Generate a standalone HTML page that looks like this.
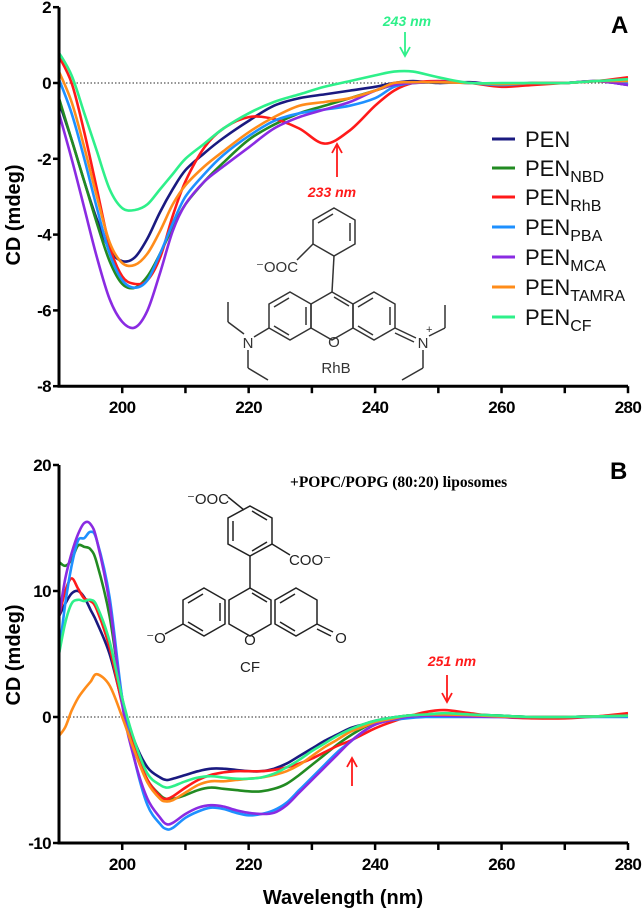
<!DOCTYPE html>
<html><head><meta charset="utf-8">
<style>
html,body{margin:0;padding:0;background:#fff;}
svg{display:block;font-family:"Liberation Sans",Arial,sans-serif;}
.tick{font-size:17px;font-weight:bold;letter-spacing:-0.6px;}
</style></head>
<body>
<svg id="chart" width="644" height="911" viewBox="0 0 644 911" xmlns="http://www.w3.org/2000/svg"></svg>
<script>
// ---- Data ----
const seriesNames = ["PEN","PEN_NBD","PEN_RhB","PEN_PBA","PEN_MCA","PEN_TAMRA","PEN_CF"];
const seriesColors = ["#1a1a80","#228b22","#ff1a1a","#1e90ff","#8a2be2","#ff8c1a","#2ef08a"];

const wavelengthsA = [190,192,194,196,198,200,202,204,206,208,210,213,216,220,224,228,232,236,240,243,246,250,255,260,265,270,275,280];
const penA   = [-0.5,-1.5,-2.6,-3.6,-4.4,-4.7,-4.6,-4.1,-3.4,-2.8,-2.3,-1.85,-1.45,-1.0,-0.6,-0.4,-0.3,-0.2,-0.1,0.0,0.05,0.0,0.02,-0.05,0.0,0.0,0.05,-0.05];
const nbdA   = [-0.4,-1.5,-2.6,-3.7,-4.7,-5.3,-5.4,-5.1,-4.5,-3.8,-3.2,-2.6,-2.1,-1.5,-1.1,-0.8,-0.6,-0.4,-0.2,-0.05,0.0,0.02,0.0,-0.05,0.0,0.0,0.05,0.05];
const rhbA   = [0.7,0.0,-1.3,-2.8,-4.3,-5.1,-5.3,-5.2,-4.6,-3.5,-2.6,-1.7,-1.2,-0.9,-0.95,-1.2,-1.6,-1.25,-0.6,-0.2,0.0,0.05,0.0,-0.1,-0.05,0.0,0.05,0.15];
const pbaA   = [0.1,-0.8,-2.0,-3.3,-4.5,-5.2,-5.4,-5.2,-4.5,-3.7,-3.0,-2.4,-1.9,-1.4,-1.0,-0.8,-0.7,-0.6,-0.4,-0.1,0.0,0.02,0.0,-0.05,0.0,0.0,0.05,0.0];
const mcaA   = [-0.8,-2.0,-3.3,-4.6,-5.7,-6.3,-6.45,-6.0,-5.0,-3.9,-3.2,-2.6,-2.2,-1.7,-1.2,-0.9,-0.7,-0.5,-0.2,-0.05,0.0,0.03,0.0,-0.02,0.0,0.0,0.05,-0.05];
const tamraA = [0.3,-0.5,-1.7,-3.0,-4.2,-4.75,-4.8,-4.5,-3.9,-3.2,-2.7,-2.2,-1.8,-1.3,-0.9,-0.6,-0.5,-0.4,-0.2,0.0,0.02,0.02,0.0,-0.03,0.0,0.0,0.05,0.05];
const cfA    = [0.8,0.2,-0.8,-1.8,-2.8,-3.3,-3.35,-3.2,-2.8,-2.4,-2.0,-1.6,-1.2,-0.8,-0.5,-0.3,-0.1,0.05,0.2,0.3,0.3,0.15,0.0,0.0,0.0,0.0,0.05,0.1];

const wavelengthsB = [190,191,192,193,194,195,196,198,200,202,204,206,207,208,210,212,214,216,218,220,222,224,226,228,230,232,234,236,238,240,242,245,248,251,255,260,265,270,275,280];
const penB   = [8,9,9.8,10,9.5,8.5,7.5,5,1.2,-2,-4,-4.8,-5.0,-4.9,-4.6,-4.3,-4.1,-4.1,-4.2,-4.3,-4.3,-4.1,-3.7,-3.1,-2.5,-1.9,-1.4,-0.9,-0.6,-0.3,-0.1,0.1,0.2,0.25,0.2,0.1,0.0,0.0,0.05,0.1];
const nbdB   = [12.3,12,12.5,13.6,13.5,13.3,12.2,8,1.5,-2.5,-5,-6.2,-6.5,-6.5,-6.2,-5.8,-5.6,-5.7,-5.8,-5.9,-5.9,-5.7,-5.3,-4.6,-3.8,-3.0,-2.2,-1.5,-0.9,-0.4,-0.2,0.1,0.2,0.25,0.2,0.1,0.0,0.0,0.05,0.1];
const rhbB   = [8,10,11,10.2,9.4,9.2,8.5,5.5,1,-2.5,-5,-6.3,-6.5,-6.3,-5.6,-5,-4.6,-4.4,-4.3,-4.3,-4.3,-4.2,-4.0,-3.7,-3.3,-2.8,-2.3,-1.9,-1.4,-0.9,-0.5,0,0.4,0.55,0.3,0,-0.1,-0.1,0.05,0.3];
const pbaB   = [5,9,12,14,14.2,14.7,14,9.5,1.5,-3.5,-7,-8.5,-8.9,-8.8,-8.0,-7.5,-7.2,-7.3,-7.6,-7.8,-7.7,-7.4,-6.8,-5.8,-4.8,-3.8,-2.8,-2.0,-1.2,-0.6,-0.3,-0.1,0.0,0.0,0.0,0.0,0.0,0.0,0.0,0.0];
const mcaB   = [8,11,13,14.5,15.4,15.3,14,9,1,-3.5,-6.5,-8,-8.5,-8.4,-7.7,-7.2,-7.0,-7.1,-7.4,-7.6,-7.7,-7.6,-7.0,-6.0,-5.0,-4.0,-3.0,-2.0,-1.2,-0.6,-0.3,0,0.1,0.1,0.05,0.0,0.0,0.0,0.05,0.1];
const tamraB = [-1.5,-0.8,0.5,1.5,2.2,2.8,3.4,2.5,0,-2.8,-5.2,-6.5,-6.7,-6.6,-6.0,-5.4,-5.1,-5.1,-5.0,-4.9,-4.8,-4.6,-4.3,-3.8,-3.1,-2.4,-1.8,-1.2,-0.8,-0.4,-0.2,0.1,0.2,0.2,0.15,0.05,0.0,0.0,0.05,0.1];
const cfB    = [5,7.5,9,9.3,9.2,9.3,8.8,6,1.5,-2,-4.5,-5.4,-5.6,-5.5,-5.1,-4.8,-4.7,-4.8,-4.9,-4.9,-4.8,-4.5,-4.0,-3.4,-2.7,-2.1,-1.5,-1.0,-0.6,-0.3,-0.1,0.1,0.2,0.3,0.2,0.1,0.0,0.0,0.05,0.1];

const xTicks = [200,220,240,260,280];
const yTicksA = [2,0,-2,-4,-6,-8];
const yTicksB = [20,10,0,-10];

const NS="http://www.w3.org/2000/svg";
const svg=document.getElementById('chart');
function mk(tag,attrs,parent){const e=document.createElementNS(NS,tag);for(const k in attrs)e.setAttribute(k,attrs[k]);(parent||svg).appendChild(e);return e;}

// axis functions
const xL=59, xR=628;
function xScale(w){return xL+(w-190)*(xR-xL)/90;}
const yA=v=>83-v*37.9;
const yB=v=>717-v*12.6;

function smoothPath(pts){
  let d='M'+pts[0][0].toFixed(1)+','+pts[0][1].toFixed(1);
  for(let i=0;i<pts.length-1;i++){
    const p0=pts[Math.max(i-1,0)],p1=pts[i],p2=pts[i+1],p3=pts[Math.min(i+2,pts.length-1)];
    const c1x=p1[0]+(p2[0]-p0[0])/6,c1y=p1[1]+(p2[1]-p0[1])/6;
    const c2x=p2[0]-(p3[0]-p1[0])/6,c2y=p2[1]-(p3[1]-p1[1])/6;
    d+='C'+c1x.toFixed(1)+','+c1y.toFixed(1)+' '+c2x.toFixed(1)+','+c2y.toFixed(1)+' '+p2[0].toFixed(1)+','+p2[1].toFixed(1);
  }
  return d;
}

function drawPanel(name,yScale,yMin,yMax,ticks,wl,series){
  const g=mk('g',{});
  
  
  const z=mk('line',{x1:xL,x2:xR,y1:yScale(0),y2:yScale(0),stroke:'#555','stroke-width':1.3,'stroke-dasharray':'1.5,2'},g);
  
  
  series.forEach((vals,i)=>{
    const pts=vals.map((v,j)=>[xScale(wl[j]),yScale(v)]);
    const p=mk('path',{d:smoothPath(pts),fill:'none',stroke:seriesColors[i],'stroke-width':2.6,'stroke-linejoin':'round'},g);
    
    
  });
  const ya=mk('line',{x1:xL,x2:xL,y1:yScale(yMax),y2:yScale(yMin),stroke:'#000','stroke-width':3},g);
  
  
  const xa=mk('line',{x1:xL-1.5,x2:xR,y1:yScale(yMin),y2:yScale(yMin),stroke:'#000','stroke-width':3},g);
  
  
  ticks.forEach(t=>{
    mk('line',{x1:xL-6,x2:xL,y1:yScale(t),y2:yScale(t),stroke:'#000','stroke-width':2.5},g);
    const tx=mk('text',{x:xL-8,y:yScale(t)+6,'text-anchor':'end',class:'tick'},g);
    tx.textContent=t;
    
    
  });
  for(let w=200;w<=280;w+=10){
    mk('line',{x1:xScale(w),x2:xScale(w),y1:yScale(yMin),y2:yScale(yMin)+7,stroke:'#000','stroke-width':2.5},g);
  }
  xTicks.forEach(w=>{
    const tx=mk('text',{x:xScale(w),y:yScale(yMin)+27,'text-anchor':'middle',class:'tick'},g);
    tx.textContent=w;
    
    
  });
  return g;
}
drawPanel('panel-a',yA,-8,2,yTicksA,wavelengthsA,[penA,nbdA,rhbA,pbaA,mcaA,tamraA,cfA]);
drawPanel('panel-b',yB,-10,20,yTicksB,wavelengthsB,[penB,nbdB,rhbB,pbaB,mcaB,tamraB,cfB]);
</script>

<svg width="644" height="911" style="position:absolute;left:0;top:0" font-family="Liberation Sans, Arial, sans-serif">
  <text x="20" y="215" transform="rotate(-90 20 215)" text-anchor="middle" font-size="20" font-weight="bold">CD (mdeg)</text>
  <text x="20" y="655" transform="rotate(-90 20 655)" text-anchor="middle" font-size="20" font-weight="bold">CD (mdeg)</text>
  <text x="343" y="904" text-anchor="middle" font-size="20" font-weight="bold">Wavelength (nm)</text>
  <text x="611" y="33" font-size="24" font-weight="bold">A</text>
  <text x="610" y="479" font-size="24" font-weight="bold">B</text>
  <text x="290" y="487" font-family="Liberation Serif, serif" font-size="15.5" font-weight="bold">+POPC/POPG (80:20) liposomes</text>

  <g>
    <text x="407" y="26" text-anchor="middle" font-size="14" font-weight="bold" font-style="italic" fill="#2ef08a">243 nm</text>
    <line x1="405" y1="32" x2="405" y2="54" stroke="#2ef08a" stroke-width="1.8"/>
    <path d="M400,47 L405,56 L410,47" fill="none" stroke="#2ef08a" stroke-width="1.8"/>
  </g>
  <g>
    <text x="332" y="197" text-anchor="middle" font-size="14" font-weight="bold" font-style="italic" fill="#ff1a1a">233 nm</text>
    <line x1="337" y1="177" x2="337" y2="146" stroke="#ff1a1a" stroke-width="1.8"/>
    <path d="M332,153 L337,144 L342,153" fill="none" stroke="#ff1a1a" stroke-width="1.8"/>
  </g>
  <g>
    <text x="452" y="666" text-anchor="middle" font-size="14" font-weight="bold" font-style="italic" fill="#ff1a1a">251 nm</text>
    <line x1="447" y1="675" x2="447" y2="700" stroke="#ff1a1a" stroke-width="1.8"/>
    <path d="M442,693 L447,702 L452,693" fill="none" stroke="#ff1a1a" stroke-width="1.8"/>
  </g>
  <g>
    <line x1="352" y1="786" x2="352" y2="760" stroke="#ff1a1a" stroke-width="1.8"/>
    <path d="M347,767 L352,758 L357,767" fill="none" stroke="#ff1a1a" stroke-width="1.8"/>
  </g>

  <g font-size="22" fill="#111">
    <g><line x1="492" x2="515" y1="139" y2="139" stroke="#1a1a80" stroke-width="3"/><text x="525" y="147">PEN</text></g>
    <g><line x1="492" x2="515" y1="168" y2="168" stroke="#228b22" stroke-width="3"/><text x="525" y="176">PEN<tspan font-size="16" dy="6">NBD</tspan></text></g>
    <g><line x1="492" x2="515" y1="197" y2="197" stroke="#ff1a1a" stroke-width="3"/><text x="525" y="205">PEN<tspan font-size="16" dy="6">RhB</tspan></text></g>
    <g><line x1="492" x2="515" y1="227" y2="227" stroke="#1e90ff" stroke-width="3"/><text x="525" y="235">PEN<tspan font-size="16" dy="6">PBA</tspan></text></g>
    <g><line x1="492" x2="515" y1="257" y2="257" stroke="#8a2be2" stroke-width="3"/><text x="525" y="265">PEN<tspan font-size="16" dy="6">MCA</tspan></text></g>
    <g><line x1="492" x2="515" y1="287" y2="287" stroke="#ff8c1a" stroke-width="3"/><text x="525" y="295">PEN<tspan font-size="16" dy="6">TAMRA</tspan></text></g>
    <g><line x1="492" x2="515" y1="317" y2="317" stroke="#2ef08a" stroke-width="3"/><text x="525" y="325">PEN<tspan font-size="16" dy="6">CF</tspan></text></g>
  </g>

  <!-- RhB structure -->
  <g stroke="#333" stroke-width="1.5" fill="none">
    <polygon points="290,292 311,304 311,328 290,340 269,328 269,304"/>
    <polygon points="332,292 353,304 353,328 332,340 311,328 311,304"/>
    <polygon points="374,292 395,304 395,328 374,340 353,328 353,304"/>
    <polygon points="334,208 355,220 355,244 334,256 313,244 313,220"/>
    <line x1="274" y1="307" x2="289" y2="298"/><line x1="306" y1="307" x2="306" y2="325"/><line x1="274" y1="326" x2="289" y2="335"/>
    <line x1="334" y1="297" x2="349" y2="306"/>
    <line x1="358" y1="307" x2="373" y2="298"/><line x1="390" y1="307" x2="390" y2="325"/><line x1="358" y1="326" x2="373" y2="335"/>
    <line x1="318" y1="223" x2="333" y2="214"/><line x1="350" y1="223" x2="350" y2="241"/>
    <line x1="332" y1="292" x2="334" y2="256"/>
    <line x1="313" y1="244" x2="297" y2="260"/>
    <line x1="269" y1="328" x2="254" y2="337"/>
    <line x1="244" y1="334" x2="228" y2="322"/><line x1="228" y1="322" x2="228" y2="302"/>
    <line x1="248" y1="350" x2="248" y2="368"/><line x1="248" y1="368" x2="268" y2="380"/>
    <line x1="395" y1="328" x2="416" y2="338"/><line x1="395" y1="333" x2="414" y2="342"/>
    <line x1="429" y1="336" x2="445" y2="328"/><line x1="445" y1="328" x2="445" y2="305"/>
    <line x1="423" y1="350" x2="423" y2="368"/><line x1="423" y1="368" x2="402" y2="380"/>
  </g>
  <g font-size="15" fill="#333">
    <text x="334" y="347" text-anchor="middle">O</text>
    <text x="248" y="348" text-anchor="middle">N</text>
    <text x="423" y="348" text-anchor="middle">N</text>
    <text x="426" y="333" font-size="11">+</text>
    <text x="277" y="272" text-anchor="middle">⁻OOC</text>
    <text x="336" y="373" text-anchor="middle">RhB</text>
  </g>

  <!-- CF structure -->
  <g stroke="#222" stroke-width="1.5" fill="none">
    <polygon points="204,588 225,600 225,624 204,636 183,624 183,600"/>
    <polygon points="250,588 271,600 271,624 250,636 229,624 229,600"/>
    <polygon points="296,588 317,600 317,624 296,636 275,624 275,600"/>
    <polygon points="250,506 272,518 272,544 250,556 228,544 228,518"/>
    <line x1="188" y1="603" x2="203" y2="594"/><line x1="220" y1="603" x2="220" y2="621"/><line x1="188" y1="622" x2="203" y2="631"/>
    <line x1="252" y1="593" x2="267" y2="602"/>
    <line x1="280" y1="603" x2="295" y2="594"/><line x1="280" y1="622" x2="295" y2="631"/>
    <line x1="233" y1="521" x2="233" y2="541"/><line x1="252" y1="511" x2="267" y2="520"/><line x1="252" y1="551" x2="267" y2="542"/>
    <line x1="250" y1="588" x2="250" y2="556"/>
    <line x1="272" y1="544" x2="290" y2="555"/>
    <line x1="244" y1="510" x2="228" y2="497"/>
    <line x1="183" y1="624" x2="165" y2="634"/>
    <line x1="317" y1="624" x2="333" y2="632"/><line x1="317" y1="629" x2="331" y2="636"/>
  </g>
  <g font-size="15" fill="#222">
    <text x="250" y="645" text-anchor="middle">O</text>
    <text x="208" y="504" text-anchor="middle">⁻OOC</text>
    <text x="310" y="565" text-anchor="middle">COO⁻</text>
    <text x="156" y="643" text-anchor="middle">⁻O</text>
    <text x="341" y="643" text-anchor="middle">O</text>
    <text x="250" y="672" text-anchor="middle">CF</text>
  </g>
</svg>
</body></html>
